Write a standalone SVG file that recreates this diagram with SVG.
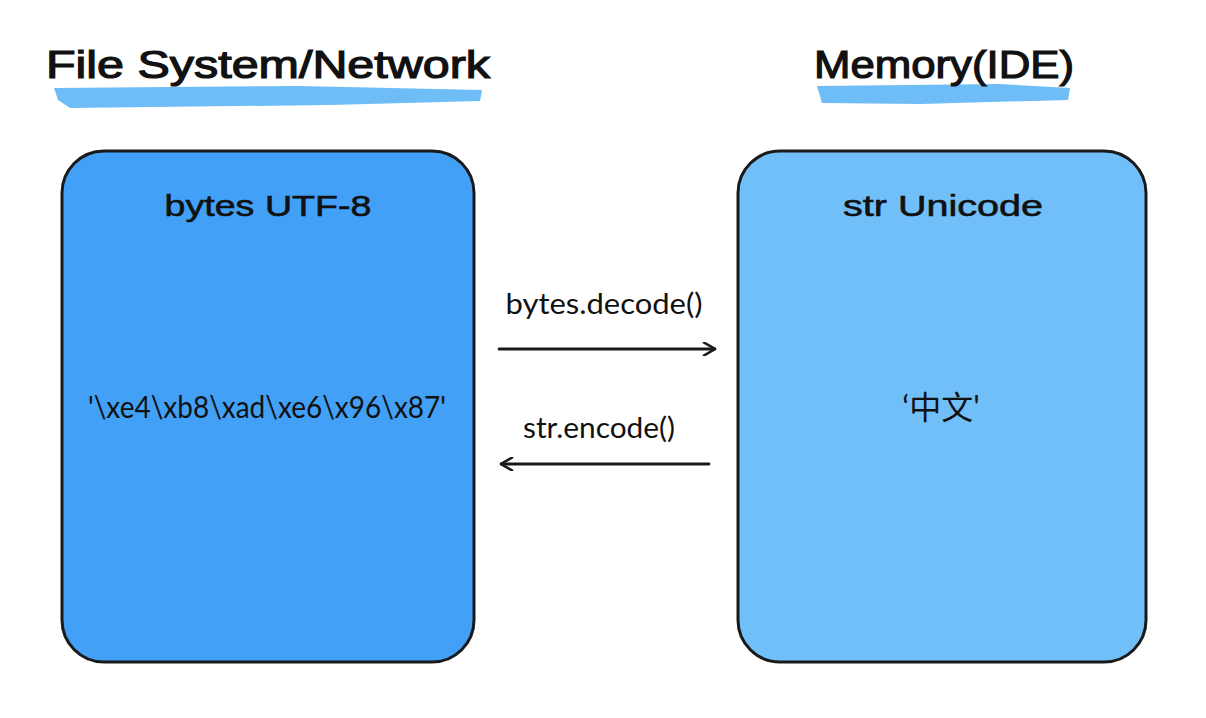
<svg xmlns="http://www.w3.org/2000/svg" width="1206" height="718" viewBox="0 0 1206 718">
<style>
.title{font-family:"Liberation Sans",Arial,sans-serif;font-size:38px;fill:#111;stroke:#111;stroke-width:1.2;}
.head{font-family:"Liberation Sans",Arial,sans-serif;font-size:30px;fill:#111;stroke:#111;stroke-width:0.6;text-anchor:middle;}
.lbl{font-family:"Lato","Open Sans",sans-serif;font-size:29px;fill:#111;text-anchor:middle;}
.box{stroke:#1a1a1a;stroke-width:3;}
.conn{stroke:#1a1a1a;stroke-width:2.8;fill:none;stroke-linecap:round;stroke-linejoin:round;}
.brush{fill:#6fbdf6;}
</style>
<defs>
<marker id="ah" viewBox="0 0 14 14" refX="13" refY="7" markerWidth="14" markerHeight="14" markerUnits="userSpaceOnUse" orient="auto">
<path d="M1,0 L13,7 L1,14" fill="none" stroke="#1a1a1a" stroke-width="2.6"/>
</marker>
</defs>
<rect width="1206" height="718" fill="#ffffff"/>
<g id="title-left">
<path class="brush" d="M54,88 L300,86 L482,90 L480,101 L330,105 L70,108 L58,100 Z"/>
<text class="title" x="46" y="78" textLength="444" lengthAdjust="spacingAndGlyphs">File System/Network</text>
</g>
<g id="title-right">
<path class="brush" d="M817,86 L1000,84 L1070,88 L1068,100 L920,104 L822,103 Z"/>
<text class="title" x="814" y="78" textLength="260" lengthAdjust="spacingAndGlyphs">Memory(IDE)</text>
</g>
<g id="bytes-node">
<rect class="box" x="62" y="151" width="412" height="511" rx="42" fill="#42a0f6"/>
<text class="head" x="268" y="216" textLength="207" lengthAdjust="spacingAndGlyphs">bytes UTF-8</text>
<text class="lbl" x="267" y="418" style="font-size:31px" textLength="358" lengthAdjust="spacingAndGlyphs">'\xe4\xb8\xad\xe6\x96\x87'</text>
</g>
<g id="str-node">
<rect class="box" x="738" y="151" width="408" height="511" rx="42" fill="#70bff8"/>
<text class="head" x="943" y="216" textLength="200" lengthAdjust="spacingAndGlyphs">str Unicode</text>
<text class="lbl" x="941" y="419" style="font-family:'Lato','Noto Sans CJK SC',sans-serif;font-size:32px">‘中文'</text>
</g>
<g id="connectors">
<line class="conn" x1="499" y1="349" x2="715" y2="349" marker-end="url(#ah)"/>
<text class="lbl" x="604" y="314" textLength="197" lengthAdjust="spacingAndGlyphs">bytes.decode()</text>
<line class="conn" x1="709" y1="464" x2="501" y2="464" marker-end="url(#ah)"/>
<text class="lbl" x="599" y="438" textLength="152" lengthAdjust="spacingAndGlyphs">str.encode()</text>
</g>
</svg>
